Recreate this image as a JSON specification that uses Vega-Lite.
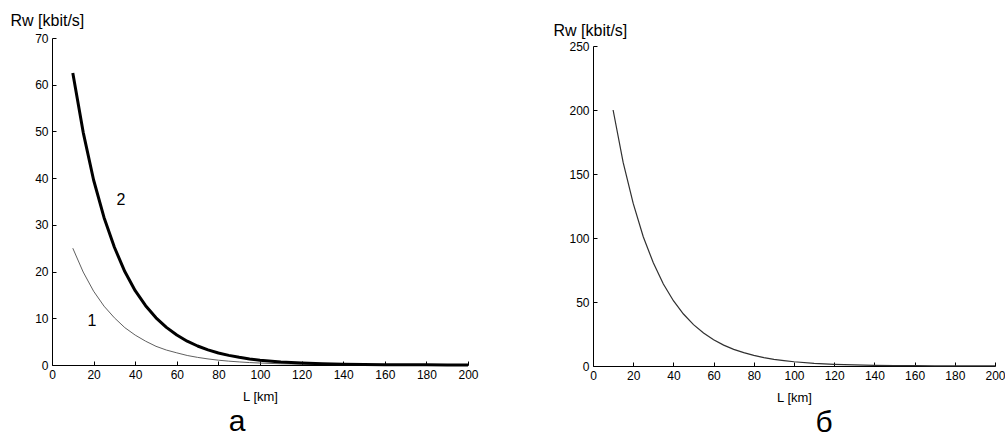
{
  "$schema": "https://vega.github.io/schema/vega-lite/v6.json",
  "background": "white",
  "padding": {"left": 10, "top": 12, "right": 0, "bottom": 0},
  "spacing": 74,
  "datasets": {
    "a": [
      {"L": 10, "Rw": 25, "curve": "1"},
      {"L": 15, "Rw": 19.9, "curve": "1"},
      {"L": 20, "Rw": 15.8, "curve": "1"},
      {"L": 25, "Rw": 12.6, "curve": "1"},
      {"L": 30, "Rw": 10.1, "curve": "1"},
      {"L": 35, "Rw": 8.0, "curve": "1"},
      {"L": 40, "Rw": 6.4, "curve": "1"},
      {"L": 45, "Rw": 5.1, "curve": "1"},
      {"L": 50, "Rw": 4.0, "curve": "1"},
      {"L": 55, "Rw": 3.2, "curve": "1"},
      {"L": 60, "Rw": 2.6, "curve": "1"},
      {"L": 65, "Rw": 2.04, "curve": "1"},
      {"L": 70, "Rw": 1.63, "curve": "1"},
      {"L": 75, "Rw": 1.3, "curve": "1"},
      {"L": 80, "Rw": 1.03, "curve": "1"},
      {"L": 85, "Rw": 0.82, "curve": "1"},
      {"L": 90, "Rw": 0.66, "curve": "1"},
      {"L": 95, "Rw": 0.52, "curve": "1"},
      {"L": 100, "Rw": 0.42, "curve": "1"},
      {"L": 110, "Rw": 0.26, "curve": "1"},
      {"L": 120, "Rw": 0.17, "curve": "1"},
      {"L": 130, "Rw": 0.11, "curve": "1"},
      {"L": 140, "Rw": 0.07, "curve": "1"},
      {"L": 150, "Rw": 0.043, "curve": "1"},
      {"L": 160, "Rw": 0.027, "curve": "1"},
      {"L": 170, "Rw": 0.017, "curve": "1"},
      {"L": 180, "Rw": 0.011, "curve": "1"},
      {"L": 190, "Rw": 0.007, "curve": "1"},
      {"L": 200, "Rw": 0.004, "curve": "1"},
      {"L": 10, "Rw": 62.5, "curve": "2"},
      {"L": 15, "Rw": 49.8, "curve": "2"},
      {"L": 20, "Rw": 39.6, "curve": "2"},
      {"L": 25, "Rw": 31.6, "curve": "2"},
      {"L": 30, "Rw": 25.2, "curve": "2"},
      {"L": 35, "Rw": 20.0, "curve": "2"},
      {"L": 40, "Rw": 15.9, "curve": "2"},
      {"L": 45, "Rw": 12.7, "curve": "2"},
      {"L": 50, "Rw": 10.1, "curve": "2"},
      {"L": 55, "Rw": 8.05, "curve": "2"},
      {"L": 60, "Rw": 6.41, "curve": "2"},
      {"L": 65, "Rw": 5.1, "curve": "2"},
      {"L": 70, "Rw": 4.07, "curve": "2"},
      {"L": 75, "Rw": 3.24, "curve": "2"},
      {"L": 80, "Rw": 2.58, "curve": "2"},
      {"L": 85, "Rw": 2.06, "curve": "2"},
      {"L": 90, "Rw": 1.64, "curve": "2"},
      {"L": 95, "Rw": 1.3, "curve": "2"},
      {"L": 100, "Rw": 1.04, "curve": "2"},
      {"L": 110, "Rw": 0.66, "curve": "2"},
      {"L": 120, "Rw": 0.42, "curve": "2"},
      {"L": 130, "Rw": 0.27, "curve": "2"},
      {"L": 140, "Rw": 0.17, "curve": "2"},
      {"L": 150, "Rw": 0.11, "curve": "2"},
      {"L": 160, "Rw": 0.068, "curve": "2"},
      {"L": 170, "Rw": 0.043, "curve": "2"},
      {"L": 180, "Rw": 0.027, "curve": "2"},
      {"L": 190, "Rw": 0.017, "curve": "2"},
      {"L": 200, "Rw": 0.011, "curve": "2"}
    ],
    "labels": [
      {"L": 19.2, "Rw": 9.4, "label": "1"},
      {"L": 33.2, "Rw": 35.3, "label": "2"}
    ],
    "b": [
      {"L": 10, "Rw": 200},
      {"L": 15, "Rw": 159},
      {"L": 20, "Rw": 127},
      {"L": 25, "Rw": 101},
      {"L": 30, "Rw": 80.6},
      {"L": 35, "Rw": 64},
      {"L": 40, "Rw": 51},
      {"L": 45, "Rw": 40.6},
      {"L": 50, "Rw": 32.3},
      {"L": 55, "Rw": 25.8},
      {"L": 60, "Rw": 20.5},
      {"L": 65, "Rw": 16.3},
      {"L": 70, "Rw": 13.0},
      {"L": 75, "Rw": 10.4},
      {"L": 80, "Rw": 8.3},
      {"L": 85, "Rw": 6.6},
      {"L": 90, "Rw": 5.2},
      {"L": 95, "Rw": 4.2},
      {"L": 100, "Rw": 3.3},
      {"L": 110, "Rw": 2.1},
      {"L": 120, "Rw": 1.34},
      {"L": 130, "Rw": 0.86},
      {"L": 140, "Rw": 0.54},
      {"L": 150, "Rw": 0.35},
      {"L": 160, "Rw": 0.22},
      {"L": 170, "Rw": 0.14},
      {"L": 180, "Rw": 0.09},
      {"L": 190, "Rw": 0.055},
      {"L": 200, "Rw": 0.035}
    ]
  },
  "hconcat": [
    {
      "width": 416,
      "height": 327,
      "title": {"text": "а", "orient": "bottom", "anchor": "middle", "fontSize": 30, "font": "Liberation Sans", "fontWeight": "normal", "color": "#000", "dx": -23, "offset": 4},
      "encoding": {
        "x": {"field": "L", "type": "quantitative", "scale": {"domain": [0, 200], "nice": false},
              "axis": {"values": [0, 20, 40, 60, 80, 100, 120, 140, 160, 180, 200], "title": "L [km]"}},
        "y": {"field": "Rw", "type": "quantitative", "scale": {"domain": [0, 70], "nice": false},
              "axis": {"values": [0, 10, 20, 30, 40, 50, 60, 70], "title": "Rw [kbit/s]", "titleFontSize": 16, "titleAngle": 0, "titleAlign": "left", "titleBaseline": "alphabetic", "titleX": -42, "titleY": -13}}
      },
      "layer": [
        {
          "data": {"name": "a"},
          "mark": {"type": "line", "strokeCap": "butt", "strokeJoin": "round"},
          "encoding": {
            "color": {"field": "curve", "type": "nominal", "scale": {"domain": ["1", "2"], "range": ["#606060", "#000000"]}, "legend": null},
            "strokeWidth": {"field": "curve", "type": "nominal", "scale": {"domain": ["1", "2"], "range": [1, 3]}, "legend": null}
          }
        },
        {
          "data": {"name": "labels"},
          "mark": {"type": "text", "fontSize": 16, "font": "Liberation Sans", "color": "#000", "align": "center", "baseline": "middle"},
          "encoding": {"text": {"field": "label", "type": "nominal"}}
        }
      ]
    },
    {
      "width": 402,
      "height": 328,
      "title": {"text": "б", "orient": "bottom", "anchor": "middle", "fontSize": 30, "font": "Liberation Sans", "fontWeight": "normal", "color": "#000", "dx": 30, "offset": 4},
      "data": {"name": "b"},
      "mark": {"type": "line", "color": "#303030", "strokeWidth": 1.2},
      "encoding": {
        "x": {"field": "L", "type": "quantitative", "scale": {"domain": [0, 200], "nice": false},
              "axis": {"values": [0, 20, 40, 60, 80, 100, 120, 140, 160, 180, 200], "title": "L [km]"}},
        "y": {"field": "Rw", "type": "quantitative", "scale": {"domain": [0, 250], "nice": false, "range": [328, 8]},
              "axis": {"values": [0, 50, 100, 150, 200, 250], "title": "Rw [kbit/s]", "titleFontSize": 16, "titleAngle": 0, "titleAlign": "left", "titleBaseline": "alphabetic", "titleX": -40, "titleY": -3}}
      }
    }
  ],
  "config": {
    "view": {"stroke": null},
    "axis": {
      "grid": false,
      "labelFlush": false,
      "domainColor": "#000",
      "domainWidth": 1,
      "tickColor": "#000",
      "tickSize": -4,
      "labelPadding": 8,
      "labelFont": "Liberation Sans",
      "labelFontSize": 12,
      "labelColor": "#000",
      "titleFont": "Liberation Sans",
      "titleFontSize": 13,
      "titleFontWeight": "normal",
      "titleColor": "#000",
      "titlePadding": 10
    }
  }
}
